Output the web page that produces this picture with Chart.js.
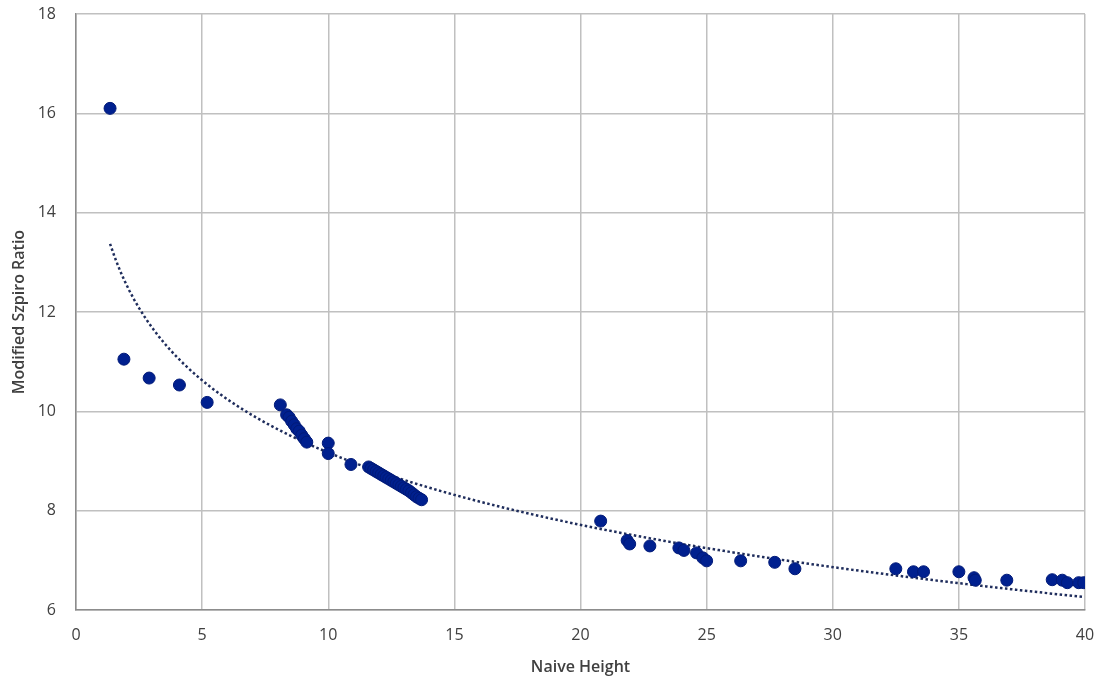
<!DOCTYPE html>
<html>
<head>
<meta charset="utf-8">
<script src="https://cdn.jsdelivr.net/npm/chart.js@4.4.1/dist/chart.umd.min.js"></script>
<style>
  html, body { margin:0; padding:0; background:#fff; }
  #wrap { width:1100px; height:683px; }
</style>
</head>
<body>
<div id="wrap"><canvas id="scatterChart" width="1100" height="683"></canvas></div>
<script>
// naive height (x) vs modified Szpiro ratio (y)
const naiveHeight = [
    1.35, 1.9, 2.9, 4.1, 5.2, 8.1,
    8.35, 8.45, 8.55, 8.65, 8.75, 8.85, 8.95, 9.05, 9.15,
    10.0, 10.0, 10.9,
    11.6, 11.7, 11.8, 11.9, 12.0, 12.1, 12.2, 12.3, 12.4, 12.5, 12.6,
    12.7, 12.8, 12.9, 13.0, 13.1, 13.2, 13.3, 13.4, 13.5, 13.6, 13.7,
    20.8, 21.85, 21.95, 22.75, 23.9, 24.1, 24.6, 24.85, 25.0,
    26.35, 27.7, 28.5,
    32.5, 33.2, 33.6, 35.0, 35.6, 35.65, 36.9,
    38.7, 39.1, 39.3, 39.75, 39.95
];
const szpiroRatio = [
    16.1, 11.05, 10.67, 10.53, 10.18, 10.13,
    9.93, 9.88, 9.8, 9.73, 9.65, 9.6, 9.52, 9.45, 9.38,
    9.36, 9.15, 8.93,
    8.88, 8.85, 8.82, 8.79, 8.76, 8.73, 8.7, 8.67, 8.64, 8.61, 8.58,
    8.55, 8.52, 8.49, 8.46, 8.43, 8.4, 8.36, 8.32, 8.28, 8.25, 8.22,
    7.79, 7.4, 7.33, 7.29, 7.25, 7.2, 7.15, 7.05, 6.99,
    6.99, 6.96, 6.83,
    6.83, 6.77, 6.77, 6.77, 6.65, 6.6, 6.6,
    6.61, 6.6, 6.55, 6.55, 6.55
];

const xTicks = [0, 5, 10, 15, 20, 25, 30, 35, 40];
const yTicks = [6, 8, 10, 12, 14, 16, 18];

const points = naiveHeight.map((x, i) => ({ x: x, y: szpiroRatio[i] }));

// logarithmic trendline y = a + b*ln(x), least squares on the data above
const lx = naiveHeight.map(Math.log);
const n = lx.length;
const mx = lx.reduce((s, v) => s + v, 0) / n;
const my = szpiroRatio.reduce((s, v) => s + v, 0) / n;
let sxy = 0, sxx = 0;
for (let i = 0; i < n; i++) {
    sxy += (lx[i] - mx) * (szpiroRatio[i] - my);
    sxx += (lx[i] - mx) * (lx[i] - mx);
}
const slope = sxy / sxx;
const icpt = my - slope * mx;
const xMin = Math.min(...naiveHeight);
const xMax = Math.max(...naiveHeight);
const trend = [];
for (let k = 0; k <= 200; k++) {
    const x = xMin + (xMax - xMin) * k / 200;
    trend.push({ x: x, y: icpt + slope * Math.log(x) });
}

new Chart(document.getElementById("scatterChart"), {

    type: "scatter",

    data: {
        datasets: [{
            label: "Modified Szpiro Ratio",
            data: points,
            backgroundColor: "#00208f",
            borderColor: "#001a78",
            borderWidth: 1,
            pointRadius: 6,
            order: 1
        }, {
            label: "Trend",
            type: "line",
            data: trend,
            borderColor: "#1f2d5c",
            borderWidth: 2.5,
            borderDash: [2.5, 2.5],
            pointRadius: 0,
            fill: false,
            tension: 0,
            order: 2
        }]
    },

    options: {
        responsive: false,
        animation: false,
        layout: { padding: { top: 14, right: 15, left: 10, bottom: 0 } },
        plugins: {
            legend: { display: false },
            tooltip: { enabled: false }
        },
        scales: {
            x: {
                type: "linear",
                min: 0, max: 40,
                afterBuildTicks(axis) { axis.ticks = xTicks.map(v => ({ value: v })); },
                afterFit(axis) {
                    axis.height = 73;
                    axis.paddingLeft = 0;
                    axis.paddingRight = 0;
                },
                grid: { color: "#c0c0c0", lineWidth: 1.5, drawTicks: false },
                border: { color: "#8c8c8c", width: 1.5 },
                ticks: {
                    padding: 16,
                    color: "#404040",
                    font: { family: "'Open Sans'", size: 16 }
                },
                title: {
                    display: true,
                    text: "Naive Height",
                    color: "#404040",
                    padding: { top: 0, bottom: 6 },
                    font: { family: "'Open Sans'", size: 16, weight: "600" }
                }
            },
            y: {
                type: "linear",
                min: 6, max: 18,
                afterBuildTicks(axis) { axis.ticks = yTicks.map(v => ({ value: v })); },
                afterFit(axis) {
                    axis.width = 66;
                    axis.paddingTop = 0;
                    axis.paddingBottom = 0;
                },
                grid: { color: "#c0c0c0", lineWidth: 1.5, drawTicks: false },
                border: { color: "#8c8c8c", width: 1.5 },
                ticks: {
                    padding: 20,
                    color: "#404040",
                    font: { family: "'Open Sans'", size: 16 }
                },
                title: {
                    display: true,
                    text: "Modified Szpiro Ratio",
                    color: "#404040",
                    padding: { top: 0, bottom: 4 },
                    font: { family: "'Open Sans'", size: 16, weight: "600" }
                }
            }
        }
    }
});
</script>
</body>
</html>
